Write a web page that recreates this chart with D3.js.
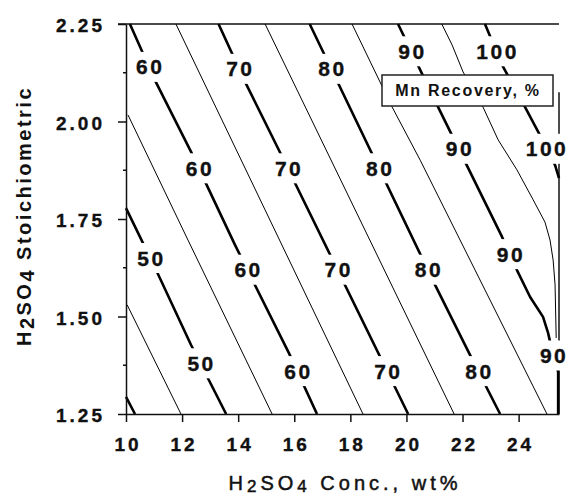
<!DOCTYPE html>
<html>
<head>
  <meta charset="utf-8">
  <title>Mn Recovery contour</title>
  <style>
    body { margin: 0; background: #fff; }
    svg { display: block; }
    text { font-family: "Liberation Sans", Arial, sans-serif; fill: #111; }
    .tick text { font-size: 19px; font-weight: bold; letter-spacing: 3px; stroke: #111; stroke-width: 0.35px; }
    .tick line, .domain { stroke: #111; stroke-width: 1.5px; }
    .clabel { font-size: 21px; font-weight: bold; letter-spacing: 2.5px; stroke: #111; stroke-width: 0.35px; }
  </style>
</head>
<body>
  <script src="https://d3js.org/d3.v7.min.js"></script>
  <script>
    const xTicks = [10, 12, 14, 16, 18, 20, 22, 24];
    const yTicks = [1.25, 1.50, 1.75, 2.00, 2.25];
    const yMinorTicks = [1.375, 1.625, 1.875, 2.125];

    const levels = [40, 45, 50, 55, 60, 65, 70, 75, 80, 85, 90, 95, 100];

    // contour paths: [H2SO4 conc wt%, stoichiometric]
    const line40 = [[10.00, 1.294], [10.32, 1.250]];
    const line45 = [[10.04, 1.530], [11.96, 1.250]];
    const line50 = [[10.00, 1.778], [11.14, 1.609], [12.32, 1.427], [13.57, 1.250]];
    const line55 = [[10.07, 2.017], [12.21, 1.696], [15.21, 1.250]];
    const line60 = [[10.14, 2.250], [11.03, 2.106], [12.32, 1.922], [13.89, 1.683], [15.81, 1.406], [16.81, 1.250]];
    const line65 = [[11.78, 2.250], [18.45, 1.250]];
    const line70 = [[13.30, 2.250], [14.25, 2.101], [15.45, 1.927], [20.06, 1.250]];
    const line75 = [[14.96, 2.250], [21.70, 1.250]];
    const line80 = [[16.55, 2.250], [21.02, 1.581], [22.27, 1.401], [23.34, 1.250]];
    const line85 = [[18.06, 2.250], [19.49, 2.037], [20.49, 1.901], [25.01, 1.250]];
    const line90 = [[19.70, 2.250], [21.13, 2.037], [23.41, 1.704], [23.94, 1.619], [24.41, 1.550],
                    [24.87, 1.499], [25.05, 1.458], [25.23, 1.401], [25.41, 1.358], [25.41, 1.250]];
    const line95 = [[21.26, 2.250], [21.63, 2.196], [22.02, 2.127], [22.73, 2.037], [23.27, 1.953],
                    [23.94, 1.876], [24.52, 1.799], [24.94, 1.742], [25.12, 1.696], [25.23, 1.645],
                    [25.30, 1.581], [25.34, 1.445]];
    const line100 = [[22.80, 2.250], [23.41, 2.145], [24.23, 2.037], [24.76, 1.965], [25.30, 1.888], [25.44, 1.855]];

    // stoichiometric value where each label sits on its line
    const labels50 = [1.65, 1.38];
    const labels60 = [2.14, 1.88, 1.62, 1.36];
    const labels70 = [2.135, 1.88, 1.62, 1.36];
    const labels80 = [2.135, 1.88, 1.62, 1.36];
    const labels90 = [2.18, 1.93, 1.66, 1.40];
    const labels100 = [2.18, 1.93];

    const lines = [line40, line45, line50, line55, line60, line65, line70, line75, line80, line85, line90, line95, line100];
    const labelSets = { 50: labels50, 60: labels60, 70: labels70, 80: labels80, 90: labels90, 100: labels100 };

    const contours = levels.map(function(lv, i) {
      return { level: lv, pts: lines[i], bold: lv % 10 === 0, labels: labelSets[lv] || [] };
    });

    const width = 567, height = 496;
    const svg = d3.select('body').append('svg')
      .attr('width', width)
      .attr('height', height);

    const x = d3.scaleLinear().domain([10, 25.44]).range([126, 559]);
    const y = d3.scaleLinear().domain([1.25, 2.25]).range([414, 24]);

    // frame: top and right edges
    svg.append('line')
      .attr('x1', 118).attr('x2', x.range()[1])
      .attr('y1', y(2.25)).attr('y2', y(2.25))
      .attr('stroke', '#111').attr('stroke-width', 1.5);
    svg.append('line')
      .attr('x1', x.range()[1]).attr('x2', x.range()[1])
      .attr('y1', y(2.075)).attr('y2', y(1.25))
      .attr('stroke', '#111').attr('stroke-width', 1.5);

    const line = d3.line()
      .x(function(d) { return x(d[0]); })
      .y(function(d) { return y(d[1]); });

    svg.append('g').selectAll('path')
      .data(contours)
      .enter()
      .append('path')
      .attr('d', function(d) { return line(d.pts); })
      .attr('fill', 'none')
      .attr('stroke', '#000')
      .attr('stroke-width', function(d) { return d.bold ? 2.6 : 1; })
      .attr('stroke-linejoin', 'round');

    function concAt(pts, s) {
      for (let i = 0; i < pts.length - 1; i++) {
        const a = pts[i], b = pts[i + 1];
        if (s <= a[1] && s >= b[1]) {
          const t = (a[1] - s) / ((a[1] - b[1]) || 1);
          return a[0] + t * (b[0] - a[0]);
        }
      }
      return pts[pts.length - 1][0];
    }

    const labelData = [];
    contours.forEach(function(c) {
      c.labels.forEach(function(s) {
        labelData.push({ level: c.level, cx: x(concAt(c.pts, s)), cy: y(s) });
      });
    });

    const lg = svg.append('g');
    labelData.forEach(function(d) {
      const g = lg.append('g');
      const bg = g.append('rect').attr('fill', '#fff');
      const t = g.append('text')
        .attr('class', 'clabel')
        .attr('y', d.cy + 7.5)
        .attr('text-anchor', 'middle')
        .text(d.level);
      const w = t.node().getBBox().width;
      // keep labels at the right edge inside the picture
      const cx = Math.min(d.cx, width - w / 2);
      t.attr('x', cx + 1.25);
      bg.attr('x', cx - w / 2)
        .attr('width', w)
        .attr('y', d.cy - 15)
        .attr('height', 30);
    });

    // legend box
    svg.append('rect')
      .attr('x', 382).attr('y', 75)
      .attr('width', 171).attr('height', 31)
      .attr('fill', '#fff')
      .attr('stroke', '#222')
      .attr('stroke-width', 1.5);
    svg.append('text')
      .attr('x', 468).attr('y', 96)
      .attr('text-anchor', 'middle')
      .style('font-size', '16px')
      .style('font-weight', 'bold')
      .style('letter-spacing', '1.7px')
      .text('Mn Recovery, %');

    // axes
    svg.append('g')
      .attr('transform', 'translate(0,' + y(1.25) + ')')
      .call(d3.axisBottom(x).tickValues(xTicks).tickSize(8).tickSizeOuter(0).tickPadding(16)
        .tickFormat(d3.format('d')))
      .selectAll('text').attr('dx', 1.5);

    svg.append('g')
      .attr('transform', 'translate(' + x(10) + ',0)')
      .call(d3.axisLeft(y).tickValues(yTicks).tickSize(8).tickSizeOuter(0).tickPadding(13)
        .tickFormat(d3.format('.2f')))
      .selectAll('text').attr('dy', '0.4em');

    svg.append('g').selectAll('line')
      .data(yMinorTicks)
      .enter()
      .append('line')
      .attr('x1', x(10) - 3).attr('x2', x(10))
      .attr('y1', function(d) { return y(d); })
      .attr('y2', function(d) { return y(d); })
      .attr('stroke', '#111').attr('stroke-width', 1.5);

    // axis titles
    const xt = svg.append('text')
      .attr('x', 345).attr('y', 490)
      .attr('text-anchor', 'middle')
      .style('font-size', '20px')
      .style('letter-spacing', '4px')
      .style('stroke', '#111').style('stroke-width', '0.5px');
    xt.append('tspan').text('H');
    xt.append('tspan').attr('dy', 2).style('font-size', '17px').text('2');
    xt.append('tspan').attr('dy', -2).text('SO');
    xt.append('tspan').attr('dy', 2).style('font-size', '17px').text('4');
    xt.append('tspan').attr('dy', -2).text(' Conc., wt%');

    const yt = svg.append('text')
      .attr('transform', 'translate(31,216) rotate(-90)')
      .attr('text-anchor', 'middle')
      .style('font-size', '20px')
      .style('font-weight', 'bold')
      .style('letter-spacing', '2.5px');
    yt.append('tspan').text('H');
    yt.append('tspan').attr('dy', 3).text('2');
    yt.append('tspan').attr('dy', -3).text('SO');
    yt.append('tspan').attr('dy', 3).text('4');
    yt.append('tspan').attr('dy', -3).text(' Stoichiometric');
  </script>
</body>
</html>
